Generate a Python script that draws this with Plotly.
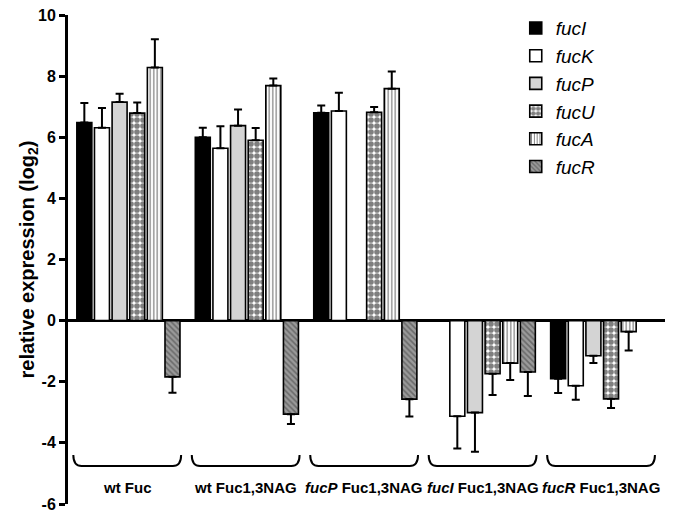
import plotly.graph_objects as go

groups = ["wt Fuc", "wt Fuc1,3NAG", "<i>fucP</i> Fuc1,3NAG",
          "<i>fucI</i> Fuc1,3NAG", "<i>fucR</i> Fuc1,3NAG"]
genes = ["fucI", "fucK", "fucP", "fucU", "fucA", "fucR"]

fucI = [6.48, 6.00, 6.80, None, -1.90]
fucI_err = [0.64, 0.31, 0.24, None, 0.47]
fucK = [6.31, 5.64, 6.86, -3.13, -2.13]
fucK_err = [0.65, 0.72, 0.60, 1.05, 0.46]
fucP = [7.15, 6.38, None, -3.01, -1.15]
fucP_err = [0.27, 0.53, None, 1.28, 0.24]
fucU = [6.79, 5.90, 6.82, -1.74, -2.56]
fucU_err = [0.35, 0.40, 0.17, 0.69, 0.30]
fucA = [8.28, 7.69, 7.59, -1.39, -0.36]
fucA_err = [0.93, 0.23, 0.56, 0.55, 0.62]
fucR = [-1.84, -3.06, -2.57, -1.68, None]
fucR_err = [0.52, 0.32, 0.57, 0.79, None]

y_ticks = [-6, -4, -2, 0, 2, 4, 6, 8, 10]

series = [(fucI, fucI_err), (fucK, fucK_err), (fucP, fucP_err),
          (fucU, fucU_err), (fucA, fucA_err), (fucR, fucR_err)]

styles = {
    "fucI": dict(color="black"),
    "fucK": dict(color="white"),
    "fucP": dict(color="#d4d4d4"),
    "fucU": dict(color="white", pattern=dict(shape=".", fgcolor="black", bgcolor="white",
                                            size=6, solidity=0.7, fillmode="overlay")),
    "fucA": dict(color="white", pattern=dict(shape="|", fgcolor="black", bgcolor="white",
                                            size=3.5, solidity=0.35, fillmode="overlay")),
    "fucR": dict(color="#9a9a9a", pattern=dict(shape="\\", fgcolor="#3a3a3a", bgcolor="#9a9a9a",
                                              size=4, solidity=0.4, fillmode="overlay")),
}

FONT = "Liberation Sans, Arial, sans-serif"
x_idx = list(range(len(groups)))

fig = go.Figure()
for g, (vals, errs) in zip(genes, series):
    plus = [(e if (v is not None and v >= 0) else 0) if e is not None else 0 for v, e in zip(vals, errs)]
    minus = [(e if (v is not None and v < 0) else 0) if e is not None else 0 for v, e in zip(vals, errs)]
    st = styles[g]
    marker = dict(color=st["color"], line=dict(color="black", width=1.6))
    if "pattern" in st:
        marker["pattern"] = st["pattern"]
    fig.add_trace(go.Bar(
        x=x_idx, y=vals, name=f"<i>{g}</i>", legendgroup=g, marker=marker,
        error_y=dict(type="data", symmetric=False, array=plus, arrayminus=minus,
                     color="black", thickness=2, width=4),
    ))

# braces and group labels
brace_top, brace_bot = -4.40, -4.76
hw, r = 0.455, 0.07
for i, lab in enumerate(groups):
    c = i - 0.01
    x0, x1 = c - hw, c + hw
    path = (f"M {x0},{brace_top} Q {x0},{brace_bot} {x0 + r},{brace_bot} "
            f"L {x1 - r},{brace_bot} Q {x1},{brace_bot} {x1},{brace_top}")
    fig.add_shape(type="path", path=path, xref="x", yref="y",
                  line=dict(color="black", width=2))
    fig.add_annotation(x=c, y=-5.45, xref="x", yref="y", text=f"<b>{lab}</b>",
                       showarrow=False, font=dict(family=FONT, size=15, color="black"))

# y-axis title
fig.add_annotation(x=-0.067, y=0.5, xref="paper", yref="paper", textangle=-90,
                   text="<b>relative expression (log<sub>2</sub>)</b>", showarrow=False,
                   xanchor="center", yanchor="middle",
                   font=dict(family=FONT, size=20, color="black"))

fig.update_layout(
    width=683, height=513,
    margin=dict(l=68, r=18, t=15, b=9, autoexpand=False),
    paper_bgcolor="white", plot_bgcolor="white",
    barmode="group", bargap=0.107, bargroupgap=0.15,
    font=dict(family=FONT, color="black"),
    showlegend=True,
    legend=dict(x=0.75, y=1.012, xanchor="left", yanchor="top",
                font=dict(family=FONT, size=19, color="black"),
                tracegroupgap=0, bgcolor="rgba(0,0,0,0)"),
    xaxis=dict(range=[-0.51, 4.53], showline=False, showticklabels=False,
               ticks="", showgrid=False, zeroline=False, automargin=False),
    yaxis=dict(range=[-6, 10], tickvals=y_ticks, ticktext=[str(t) for t in y_ticks],
               showline=True, linecolor="black", linewidth=3, automargin=False,
               ticks="outside", ticklen=6, tickwidth=2.5, tickcolor="black",
               tickfont=dict(family=FONT, size=16, color="black", weight="bold"),
               showgrid=False, zeroline=True, zerolinecolor="black", zerolinewidth=3),
)

fig.write_html("out.html", config={"displayModeBar": False},
               post_script="document.body.style.margin='0';document.body.style.overflow='hidden';")
